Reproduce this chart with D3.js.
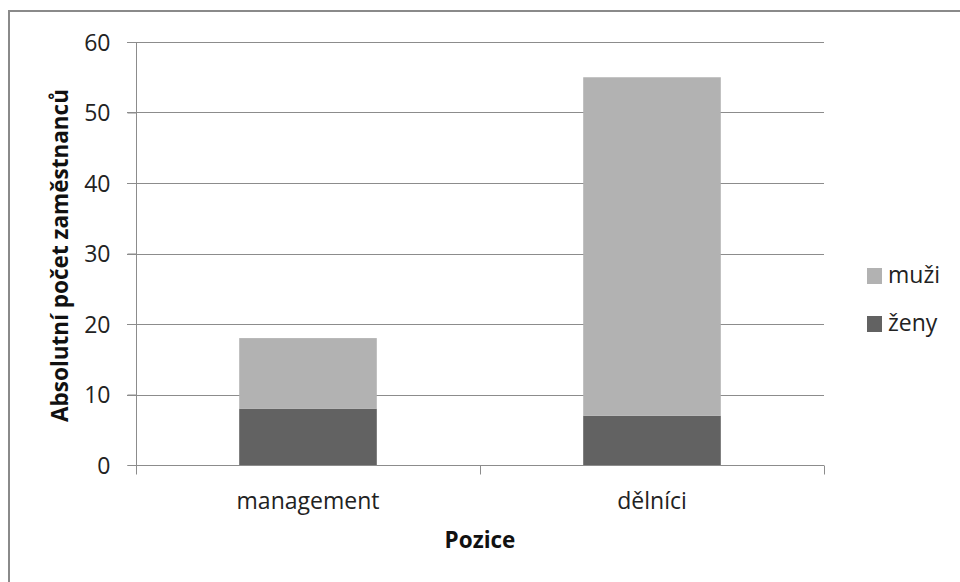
<!DOCTYPE html>
<html><head><meta charset="utf-8">
<script src="https://cdn.jsdelivr.net/npm/d3@7"></script>
<style>body{margin:0;background:#fff;} svg{display:block;}</style>
</head><body>
<svg id="chart" width="960" height="582"></svg>
<script>
const categories = ["management", "dělníci"];
const seriesNames = ["ženy", "muži"];
const zeny = [8, 7];
const muzi = [10, 48];
const yTicks = [0, 10, 20, 30, 40, 50, 60];
const colors = {"ženy": "#626262", "muži": "#b2b2b2"};
const yTitle = "Absolutní počet zaměstnanců";
const xTitle = "Pozice";

const rows = categories.map((c, i) => ({cat: c, "ženy": zeny[i], "muži": muzi[i]}));
const stacked = d3.stack().keys(seriesNames)(rows);

const svg = d3.select("#chart");
const font = "'Open Sans', sans-serif";
const pL = 136, pR = 824, pT = 42, pB = 465;
const fs = 23, tfs = 22.5;

svg.append("rect").attr("x", 9).attr("y", 11).attr("width", 1000).attr("height", 1000)
  .attr("fill", "none").attr("stroke", "#8a8a8a").attr("stroke-width", 2);

const x = d3.scaleBand().domain(categories).range([pL, pR]).paddingInner(0.6).paddingOuter(0.3);
const y = d3.scaleLinear().domain([0, 60]).range([pB, pT]);

// gridlines
svg.append("g").selectAll("line").data(yTicks.filter(t => t > 0)).join("line")
  .attr("x1", pL - 9).attr("x2", pR)
  .attr("y1", d => Math.round(y(d)) + 0.5).attr("y2", d => Math.round(y(d)) + 0.5)
  .attr("stroke", "#8c8c8c").attr("stroke-width", 1);

// bars
svg.append("g").selectAll("g").data(stacked).join("g")
  .attr("fill", d => colors[d.key])
  .selectAll("rect").data(d => d).join("rect")
  .attr("x", d => x(d.data.cat)).attr("width", x.bandwidth())
  .attr("y", d => y(d[1])).attr("height", d => y(d[0]) - y(d[1]));

// y axis
const yAxis = d3.axisLeft(y).tickValues(yTicks).tickSize(9).tickPadding(17);
const gy = svg.append("g").attr("transform", `translate(${pL + 0.5},0)`).call(yAxis);
gy.select(".domain").attr("stroke", "#8c8c8c").attr("d", `M-9,${pB + 0.5}H0V${pT}`);
gy.selectAll(".tick line").attr("stroke", "#8c8c8c");
gy.selectAll(".tick text").attr("font-family", font).attr("font-size", fs).attr("fill", "#222").attr("dy", "0.36em");

// x axis
const gx = svg.append("g").attr("transform", `translate(0,${Math.round(pB) + 0.5})`);
gx.append("line").attr("x1", pL).attr("x2", pR).attr("stroke", "#8c8c8c");
const bounds = [pL, pL + x.step(), pR];
gx.selectAll("line.t").data(bounds).join("line").attr("class", "t")
  .attr("x1", d => Math.round(d) + 0.5).attr("x2", d => Math.round(d) + 0.5)
  .attr("y1", 0).attr("y2", 9).attr("stroke", "#8c8c8c");
gx.selectAll("text").data(categories).join("text")
  .attr("x", d => x(d) + x.bandwidth() / 2).attr("y", 43)
  .attr("text-anchor", "middle").attr("font-family", font).attr("font-size", fs).attr("fill", "#222")
  .text(d => d);

// titles
svg.append("text").attr("x", (pL + pR) / 2).attr("y", 548).attr("text-anchor", "middle")
  .attr("font-family", font).attr("font-weight", "bold").attr("font-size", tfs).attr("fill", "#111").text(xTitle);
svg.append("text").attr("transform", `translate(68,${(pT + pB) / 2 + 2}) rotate(-90)`).attr("text-anchor", "middle")
  .attr("font-family", font).attr("font-weight", "bold").attr("font-size", tfs).attr("fill", "#111").text(yTitle);

// legend
const legendOrder = ["muži", "ženy"];
const lg = svg.append("g").selectAll("g").data(legendOrder).join("g")
  .attr("transform", (d, i) => `translate(867,${268 + i * 48})`);
lg.append("rect").attr("width", 15).attr("height", 16).attr("fill", d => colors[d]);
lg.append("text").attr("x", 21).attr("y", 15).attr("font-family", font).attr("font-size", fs).attr("fill", "#222").text(d => d);
</script>
</body></html>
